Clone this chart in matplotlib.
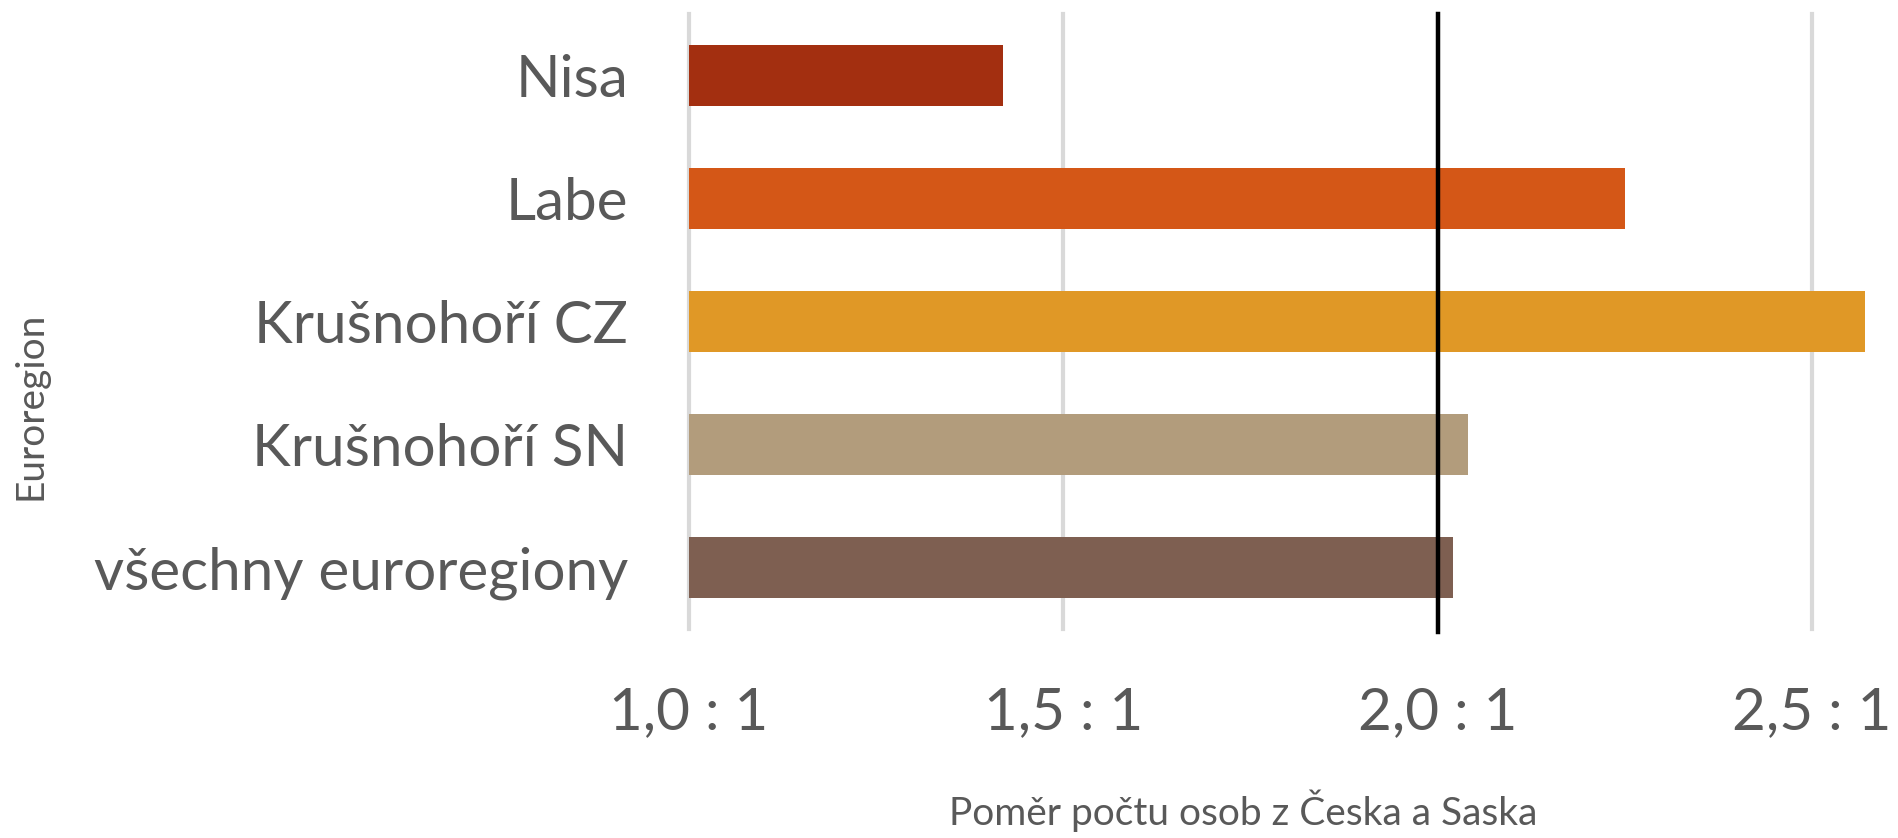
import matplotlib
matplotlib.use("Agg")
import matplotlib.pyplot as plt

categories = ["Nisa", "Labe", "Krušnohoří CZ", "Krušnohoří SN", "všechny euroregiony"]
values = [1.42, 2.25, 2.57, 2.04, 2.02]
colors = ["#A32F10", "#D45717", "#E09826", "#B29C7C", "#7E5F51"]
xticks = [1.0, 1.5, 2.0, 2.5]
xtick_labels = ["1,0 : 1", "1,5 : 1", "2,0 : 1", "2,5 : 1"]
reference_value = 2.0
xlabel = "Poměr počtu osob z Česka a Saska"
ylabel = "Euroregion"

FONT = "Lato"
TXT = "#595959"
plt.rcParams["font.family"] = [FONT, "DejaVu Sans"]

fig = plt.figure(figsize=(18.98, 8.38), dpi=100)
W, H = 1898, 838
left, right, top, bottom = 689, 1887, 14, 629
ax = fig.add_axes([left / W, 1 - bottom / H, (right - left) / W, (bottom - top) / H])

base = 1.0
ypos = list(range(len(categories)))
ax.barh(ypos, [v - base for v in values], left=base, height=0.5, color=colors, zorder=2)
ax.set_xlim(1.0, 2.6)
ax.set_ylim(len(categories) - 0.5, -0.5)

ax.set_xticks(xticks)
ax.set_xticklabels(xtick_labels, fontsize=42, color=TXT)
ax.set_yticks(ypos)
ax.set_yticklabels(categories, fontsize=42, color=TXT)
ax.tick_params(axis="x", length=0, pad=41)
ax.tick_params(axis="y", length=0, pad=44)

for x in xticks:
    ax.axvline(x, color="#D9D9D9", lw=3, zorder=1, clip_on=False)
ax.axvline(reference_value, color="black", lw=3.2, zorder=3, ymin=-0.005, ymax=1.0, clip_on=False)

for s in ax.spines.values():
    s.set_visible(False)

fig.text(1243 / W, 1 - 825 / H, xlabel, fontsize=28, color=TXT, ha="center", va="baseline")
fig.text(31 / W, 1 - 406 / H, ylabel, fontsize=28, color=TXT, ha="center", va="center", rotation=90)

fig.savefig("out.png", dpi=100)
